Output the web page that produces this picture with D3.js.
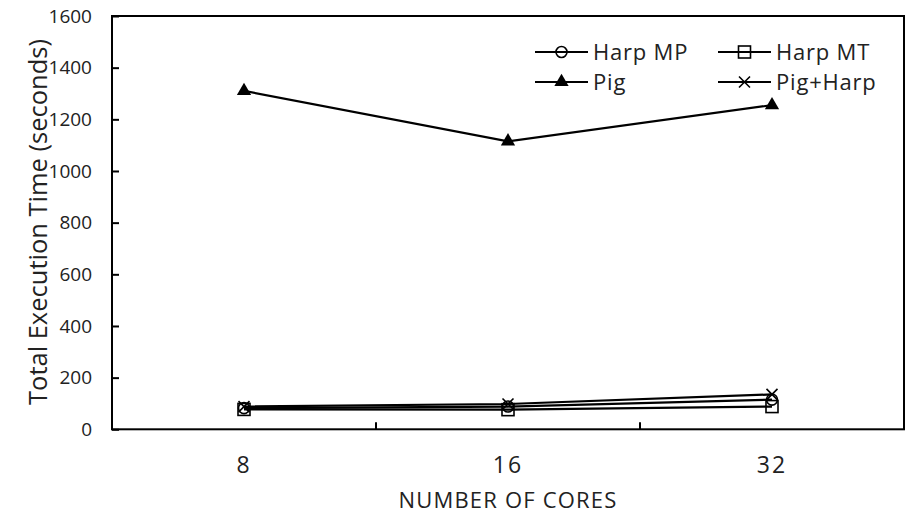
<!DOCTYPE html>
<html>
<head>
<meta charset="utf-8">
<script src="https://cdn.jsdelivr.net/npm/d3@7"></script>
<style>
  html, body { margin: 0; padding: 0; background: #fff; }
  svg { display: block; font-family: 'Open Sans', sans-serif; }
</style>
</head>
<body>
<div id="chart"></div>
<script>
// Data
const cores = ['8', '16', '32'];
const harpMP = [82, 88, 115];
const harpMT = [77, 76, 88];
const pig = [1310, 1115, 1255];
const pigHarp = [88, 98, 135];
const yTicks = [0, 200, 400, 600, 800, 1000, 1200, 1400, 1600];

const series = [
  { name: 'Harp MP', values: harpMP, marker: 'circle' },
  { name: 'Harp MT', values: harpMT, marker: 'square' },
  { name: 'Pig', values: pig, marker: 'triangle' },
  { name: 'Pig+Harp', values: pigHarp, marker: 'x' }
];

const width = 909;
const height = 514;
const plot = { left: 112, right: 904, top: 16, bottom: 429.3 };
const textColor = '#222';

const svg = d3.select('#chart')
  .append('svg')
  .attr('width', width)
  .attr('height', height);

const x = d3.scaleBand()
  .domain(cores)
  .range([plot.left, plot.right]);

const y = d3.scaleLinear()
  .domain([0, 1600])
  .range([plot.bottom, plot.top]);

// Marker shapes
function drawMarker(sel, type) {
  if (type === 'circle') {
    sel.append('circle').attr('r', 5.5)
      .attr('fill', 'none').attr('stroke', '#000').attr('stroke-width', 1.6);
  } else if (type === 'square') {
    sel.append('rect').attr('x', -6).attr('y', -6).attr('width', 12).attr('height', 12)
      .attr('fill', 'none').attr('stroke', '#000').attr('stroke-width', 1.6);
  } else if (type === 'triangle') {
    sel.append('path').attr('d', d3.symbol(d3.symbolTriangle, 88)())
      .attr('fill', '#000');
  } else {
    sel.append('path').attr('d', 'M-5.5,-5.5L5.5,5.5M-5.5,5.5L5.5,-5.5')
      .attr('fill', 'none').attr('stroke', '#000').attr('stroke-width', 1.6);
  }
}

// Y axis, ticks pointing inside
const yAxis = svg.append('g')
  .attr('transform', `translate(${plot.left},0)`)
  .call(d3.axisLeft(y).tickValues(yTicks).tickFormat(d3.format('d'))
    .tickSizeInner(-7).tickSizeOuter(0).tickPadding(20));
yAxis.select('.domain').remove();
yAxis.selectAll('line').attr('stroke', '#000').attr('stroke-width', 2);
yAxis.selectAll('text')
  .attr('fill', textColor)
  .style('font-size', '19px')
  .style('font-family', "'Open Sans', sans-serif");

// X axis labels
const xAxis = svg.append('g')
  .attr('transform', `translate(0,${plot.bottom})`)
  .call(d3.axisBottom(x).tickSize(0).tickPadding(27));
xAxis.select('.domain').remove();
xAxis.selectAll('text')
  .attr('fill', textColor)
  .style('font-size', '23px')
  .style('letter-spacing', '2px')
  .style('font-family', "'Open Sans', sans-serif");

// Category boundary ticks
svg.append('g')
  .selectAll('line')
  .data(cores.slice(0, -1))
  .join('line')
  .attr('x1', d => x(d) + x.bandwidth())
  .attr('x2', d => x(d) + x.bandwidth())
  .attr('y1', plot.bottom)
  .attr('y2', plot.bottom - 7)
  .attr('stroke', '#000')
  .attr('stroke-width', 2);

// Plot frame
svg.append('rect')
  .attr('x', plot.left)
  .attr('y', plot.top)
  .attr('width', plot.right - plot.left)
  .attr('height', plot.bottom - plot.top)
  .attr('fill', 'none')
  .attr('stroke', '#000')
  .attr('stroke-width', 2);

// Lines
const line = d3.line()
  .x((d, i) => x(cores[i]) + x.bandwidth() / 2)
  .y(d => y(d));

svg.append('g')
  .selectAll('path')
  .data(series)
  .join('path')
  .attr('d', d => line(d.values))
  .attr('fill', 'none')
  .attr('stroke', '#000')
  .attr('stroke-width', 2.2);

// Markers
series.forEach(s => {
  svg.append('g')
    .selectAll('g')
    .data(s.values)
    .join('g')
    .attr('transform', (d, i) => `translate(${x(cores[i]) + x.bandwidth() / 2},${y(d)})`)
    .each(function() { drawMarker(d3.select(this), s.marker); });
});

// Legend
const legendPos = [
  { x: 535, y: 52 }, { x: 718, y: 52 },
  { x: 535, y: 82 }, { x: 718, y: 82 }
];
const legend = svg.append('g')
  .selectAll('g')
  .data(series)
  .join('g')
  .attr('transform', (d, i) => `translate(${legendPos[i].x},${legendPos[i].y})`);

legend.append('line')
  .attr('x1', 0).attr('x2', 53)
  .attr('stroke', '#000').attr('stroke-width', 2);
legend.append('g')
  .attr('transform', 'translate(26.5,0)')
  .each(function(d) { drawMarker(d3.select(this), d.marker); });
legend.append('text')
  .attr('x', 58)
  .attr('y', 8)
  .attr('fill', textColor)
  .style('font-size', '22px')
  .style('letter-spacing', '0.8px')
  .text(d => d.name);

// Axis titles
svg.append('text')
  .attr('x', (plot.left + plot.right) / 2)
  .attr('y', 508)
  .attr('text-anchor', 'middle')
  .attr('fill', textColor)
  .style('font-size', '22px')
  .style('letter-spacing', '1.2px')
  .text('NUMBER OF CORES');

svg.append('text')
  .attr('transform', 'translate(47,222) rotate(-90)')
  .attr('text-anchor', 'middle')
  .attr('fill', textColor)
  .style('font-size', '25.5px')
  .text('Total Execution Time (seconds)');
</script>
</body>
</html>
